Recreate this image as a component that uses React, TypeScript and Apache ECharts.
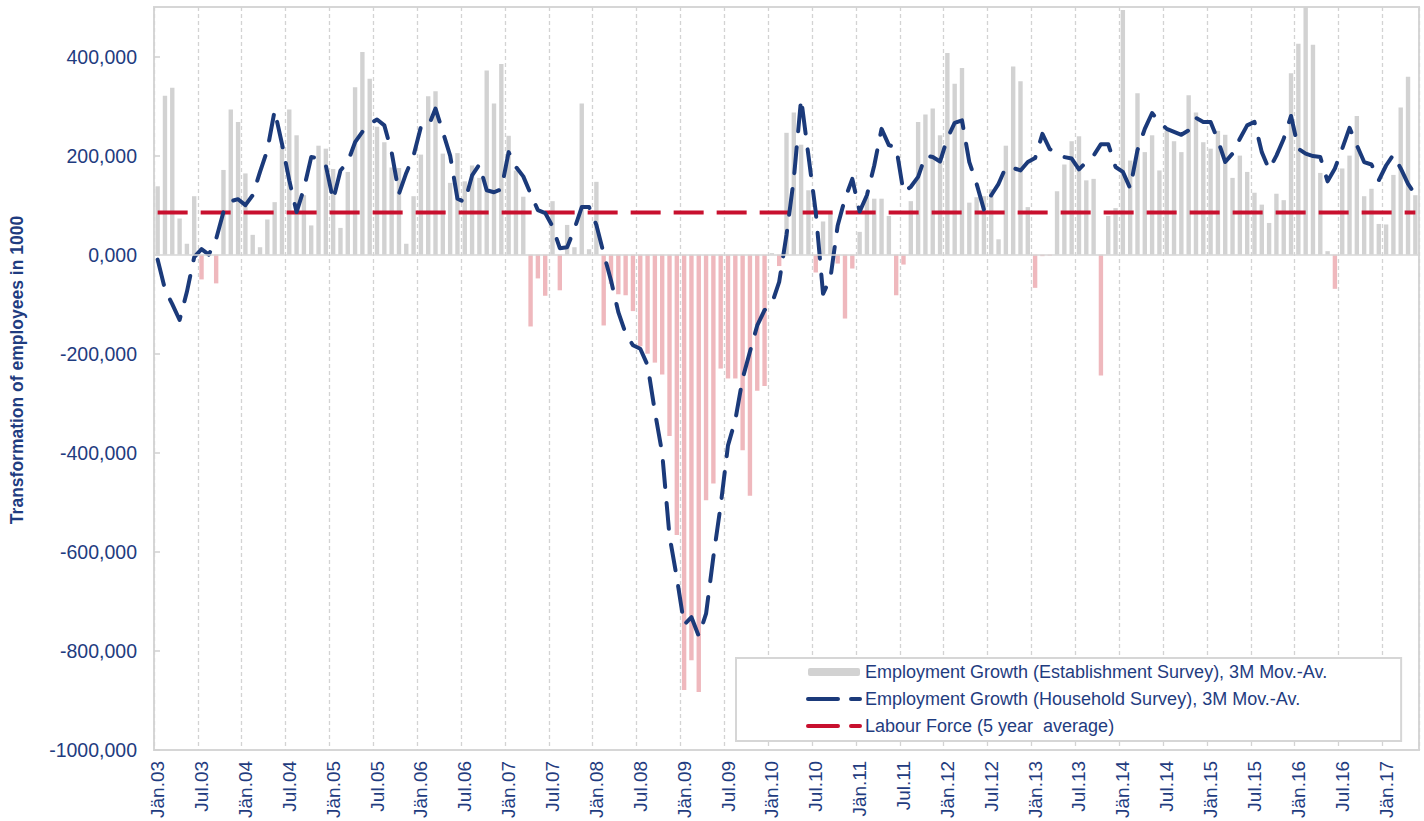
import React, { useEffect, useRef } from "react";
import * as echarts from "echarts";

const MONTHS = ["Jän", "Feb", "Mär", "Apr", "Mai", "Jun", "Jul", "Aug", "Sep", "Okt", "Nov", "Dez"];
const START_YEAR = 2003;
const N_MONTHS = 173; // Jän.03 .. Mai.17

// Employment growth, establishment survey, 3M moving average (thousands)
const ESTABLISHMENT = [
  138, 321, 337, 73, 22, 118, -50, 2, -58, 171, 293, 268,
  164, 40, 15, 71, 106, 220, 293, 241, 120, 59, 220, 214,
  173, 54, 167, 338, 409, 355, 258, 227, 176, 175, 22, 118,
  202, 320, 330, 204, 145, 205, 148, 180, 155, 372, 305, 385,
  240, 170, 117, -145, -48, -83, 108, -72, 60, 15, 305, 11,
  147, -143, -59, -80, -82, -114, -185, -200, -218, -242, -366, -566,
  -879, -819, -883, -496, -462, -230, -250, -250, -395, -487, -275, -265,
  3, -23, 246, 287, 222, 130, -36, 67, 86, -18, -129, -28,
  46, 116, 113, 113, 78, -82, -20, 108, 268, 283, 295, 241,
  407, 345, 377, 105, 116, 118, 132, 31, 220, 380, 350, 96,
  -67, -3, -2, 128, 182, 229, 239, 150, 153, -244, 78, 94,
  494, 190, 326, 207, 241, 170, 250, 229, 207, 322, 287, 227,
  214, 250, 242, 155, 200, 167, 125, 101, 64, 123, 110, 366,
  426, 510, 424, 165, 7, -69, 174, 200, 280, 118, 133, 62,
  61, 161, 297, 359, 120,
];

// Employment growth, household survey, 3M moving average (thousands)
const HOUSEHOLD = [
  -10, -70, -100, -132, -75, -5, 11, 0, 32, 86, 108, 112,
  100, 120, 167, 211, 291, 224, 150, 86, 133, 197, 195, 180,
  110, 170, 187, 227, 248, 264, 273, 261, 207, 123, 165, 200,
  258, 258, 295, 248, 200, 113, 106, 160, 182, 130, 126, 132,
  207, 177, 158, 123, 90, 84, 57, 13, 15, 52, 96, 96,
  60, 2, -52, -116, -159, -183, -190, -223, -317, -401, -568, -652,
  -747, -732, -770, -725, -610, -506, -385, -334, -250, -196, -143, -112,
  -99, -55, 40, 153, 315, 200, 86, -79, -48, 59, 113, 153,
  87, 120, 180, 254, 221, 217, 126, 137, 157, 200, 197, 188,
  235, 266, 271, 187, 143, 91, 120, 143, 177, 175, 170, 187,
  195, 244, 213, 206, 197, 194, 172, 187, 200, 223, 223, 177,
  167, 134, 211, 254, 286, 268, 254, 248, 242, 251, 276, 268,
  268, 231, 187, 204, 234, 261, 268, 207, 172, 200, 234, 280,
  214, 204, 199, 197, 148, 174, 214, 256, 221, 187, 182, 150,
  180, 202, 174, 143, 121,
];

// Labour force growth, 5 year average (thousands)
const LABOUR_FORCE = 85;

const Y_MIN = -1000;
const Y_MAX = 500;
const Y_STEP = 200;

const SERIES_NAMES = [
  "Employment Growth (Establishment Survey), 3M Mov.-Av.",
  "Employment Growth (Household Survey), 3M Mov.-Av.",
  "Labour Force (5 year  average)",
];
const Y_TITLE = "Transformation of employees in 1000";

const NAVY = "#1f3c80";
const LINE_BLUE = "#1b3a7a";
const RED = "#c8102e";
const GREY_BAR = "#d2d2d2";
const PINK_BAR = "#efb8bd";
const FONT = "'Liberation Sans', Arial, sans-serif";

const categories: string[] = [];
for (let i = 0; i < N_MONTHS; i++) {
  const y = START_YEAR + Math.floor(i / 12);
  categories.push(`${MONTHS[i % 12]}.${String(y % 100).padStart(2, "0")}`);
}

export default function App() {
  const ref = useRef<HTMLDivElement>(null);
  useEffect(() => {
    if (!ref.current) return;
    const chart = echarts.init(ref.current, null, { renderer: "svg" });
    const barData = ESTABLISHMENT.map((v) =>
      v < 0 ? { value: v, itemStyle: { color: PINK_BAR } } : { value: v }
    );
    const dash = [30, 13];
    chart.setOption({
      animation: false,
      backgroundColor: "#ffffff",
      grid: {
        left: 154,
        right: 5,
        top: 7,
        bottom: 71,
        show: true,
        borderColor: "#d6d6d6",
        borderWidth: 2,
        backgroundColor: "transparent",
      },
      xAxis: {
        type: "category",
        data: categories,
        boundaryGap: true,
        axisLine: { show: false },
        axisTick: { show: false },
        axisLabel: {
          interval: 5,
          rotate: 90,
          color: NAVY,
          fontSize: 19,
          fontFamily: FONT,
          margin: 11,
        },
        splitLine: {
          show: true,
          interval: 5,
          lineStyle: { color: "#d3d3d3", type: [4, 3], width: 1.3 },
        },
      },
      yAxis: {
        type: "value",
        min: Y_MIN,
        max: Y_MAX,
        interval: Y_STEP,
        axisLine: { show: false },
        axisTick: {
          show: true,
          inside: true,
          length: 6,
          lineStyle: { color: "#d0d0d0", width: 1.5 },
        },
        splitLine: { show: false },
        axisLabel: {
          showMaxLabel: false,
          color: NAVY,
          fontSize: 19.5,
          fontFamily: FONT,
          margin: 17,
          formatter: (v: number) => v.toFixed(3).replace(".", ","),
        },
      },
      legend: {
        orient: "vertical",
        left: 736,
        top: 658,
        padding: [4, 74, 5, 70],
        itemGap: 7,
        itemWidth: 52,
        itemHeight: 8,
        borderColor: "#d6d6d6",
        borderWidth: 2,
        backgroundColor: "#ffffff",
        textStyle: { color: NAVY, fontSize: 18, fontFamily: FONT, lineHeight: 20 },
        data: [
          { name: SERIES_NAMES[0] },
          {
            name: SERIES_NAMES[1],
            itemStyle: { opacity: 0 },
            lineStyle: { color: LINE_BLUE, width: 4, type: dash, cap: "round" },
          },
          {
            name: SERIES_NAMES[2],
            itemStyle: { opacity: 0 },
            lineStyle: { color: RED, width: 4, type: dash, cap: "round" },
          },
        ],
      },
      graphic: [
        {
          type: "text",
          x: 17,
          y: 370,
          rotation: Math.PI / 2,
          style: {
            text: Y_TITLE,
            fill: NAVY,
            font: `bold 17.5px ${FONT}`,
            align: "center",
            verticalAlign: "middle",
          },
        },
      ],
      series: [
        {
          name: SERIES_NAMES[0],
          type: "bar",
          data: barData,
          barWidth: "60%",
          itemStyle: { color: GREY_BAR },
          z: 1,
          markLine: {
            silent: true,
            symbol: "none",
            label: { show: false },
            lineStyle: { color: "#d6d6d6", width: 1.5, type: "solid" },
            data: [{ yAxis: 0 }],
          },
        },
        {
          name: SERIES_NAMES[2],
          type: "line",
          data: categories.map(() => LABOUR_FORCE),
          symbol: "none",
          lineStyle: { color: RED, width: 4, type: dash },
          itemStyle: { color: RED },
          z: 2,
        },
        {
          name: SERIES_NAMES[1],
          type: "line",
          data: HOUSEHOLD,
          symbol: "none",
          lineStyle: { color: LINE_BLUE, width: 4, type: [26, 16], cap: "round", join: "round" },
          itemStyle: { color: LINE_BLUE },
          z: 3,
        },
      ],
    });
    return () => chart.dispose();
  }, []);
  return (
    <div
      ref={ref}
      style={{ position: "fixed", left: 0, top: 0, width: 1424, height: 821 }}
    />
  );
}
